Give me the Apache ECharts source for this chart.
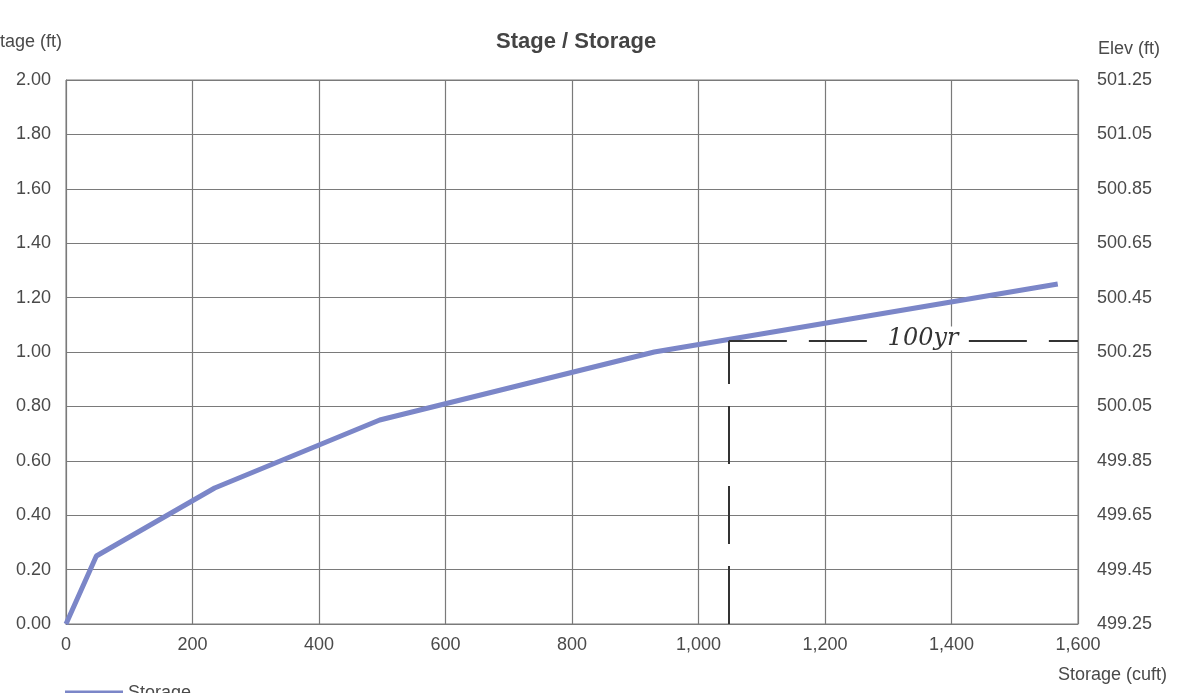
<!DOCTYPE html>
<html>
<head>
<meta charset="utf-8">
<script src="https://cdn.jsdelivr.net/npm/echarts@6/dist/echarts.min.js"></script>
<style>html,body{margin:0;padding:0;background:#fff}#c{width:1177px;height:693px}</style>
</head>
<body>
<div id="c"></div>
<script>
const storage = [0, 48, 235, 496, 930, 1568];
const stage = [0, 0.25, 0.50, 0.75, 1.00, 1.25];
const elevBase = 499.25;
const annotVertical = [[1048, 0], [1048, 1.04]];
const annotHorizontal = [[1048, 1.04], [1600, 1.04]];
const annotText = {x: 1355, y: 1.05, text: '100yr'};

const chart = echarts.init(document.getElementById('c'));
const font = 'Liberation Sans, Arial, sans-serif';
const txt = '#4a4a4a';
const gridCol = '#7a7a7a';
chart.setOption({
  animation: false,
  backgroundColor: '#fff',
  title: {text: 'Stage / Storage', left: 491, top: 26,
    textStyle: {fontFamily: font, fontSize: 22, fontWeight: 'bold', color: '#444'}},
  legend: {left: 60, top: 679, icon: 'rect', itemWidth: 58, itemHeight: 5, itemGap: 6,
    textStyle: {fontFamily: font, fontSize: 18, color: txt}, data: ['Storage']},
  grid: {left: 66, right: 99, top: 80, bottom: 69, show: true, borderColor: gridCol, borderWidth: 1},
  graphic: [{type: 'text', left: -12, top: 33,
    style: {text: 'Stage (ft)', font: '18px ' + font, fill: txt}}],
  xAxis: {type: 'value', min: 0, max: 1600, interval: 200,
    name: 'Storage (cuft)', nameLocation: 'end', nameGap: 0,
    nameTextStyle: {fontFamily: font, fontSize: 18, color: txt, align: 'right', verticalAlign: 'top', padding: [42, -89, 0, 0]},
    axisLine: {lineStyle: {color: gridCol}}, axisTick: {show: false},
    axisLabel: {fontFamily: font, fontSize: 18, color: txt, margin: 12,
      formatter: v => v.toLocaleString('en-US')},
    splitLine: {lineStyle: {color: gridCol, width: 1.2}}},
  yAxis: [
    {type: 'value', min: 0, max: 2, interval: 0.2,
      axisLine: {show: true, lineStyle: {color: gridCol}}, axisTick: {show: false},
      axisLabel: {fontFamily: font, fontSize: 18, color: txt, margin: 15, formatter: v => v.toFixed(2)},
      splitLine: {lineStyle: {color: gridCol, width: 1.2}}},
    {type: 'value', min: 0, max: 2, interval: 0.2, position: 'right',
      name: 'Elev (ft)', nameLocation: 'end', nameGap: 22,
      nameTextStyle: {fontFamily: font, fontSize: 18, color: txt, align: 'left', padding: [0, 0, 0, 20]},
      axisLine: {show: false}, axisTick: {show: false},
      axisLabel: {fontFamily: font, fontSize: 18, color: txt, margin: 19,
        formatter: v => (v + elevBase).toFixed(2)},
      splitLine: {show: false}}
  ],
  series: [{
    name: 'Storage', type: 'line', yAxisIndex: 0,
    data: storage.map((s, i) => [s, stage[i]]),
    symbol: 'none', lineStyle: {color: '#7b86c8', width: 5}, itemStyle: {color: '#7b86c8'},
    markLine: {silent: true, symbol: 'none',
      lineStyle: {color: '#333', width: 2, type: [58, 22]},
      label: {show: false},
      data: [
        [{coord: annotVertical[0]}, {coord: annotVertical[1]}],
        [{coord: annotHorizontal[0]}, {coord: annotHorizontal[1]}]
      ]},
    markPoint: {silent: true, symbol: 'circle', symbolSize: 1, itemStyle: {color: 'transparent'},
      label: {show: true, formatter: annotText.text, fontFamily: 'DejaVu Serif', fontStyle: 'italic',
        fontSize: 24, color: '#333', backgroundColor: '#fff', padding: [0, 4]},
      data: [{coord: [annotText.x, annotText.y]}]}
  }]
});
</script>
</body>
</html>
